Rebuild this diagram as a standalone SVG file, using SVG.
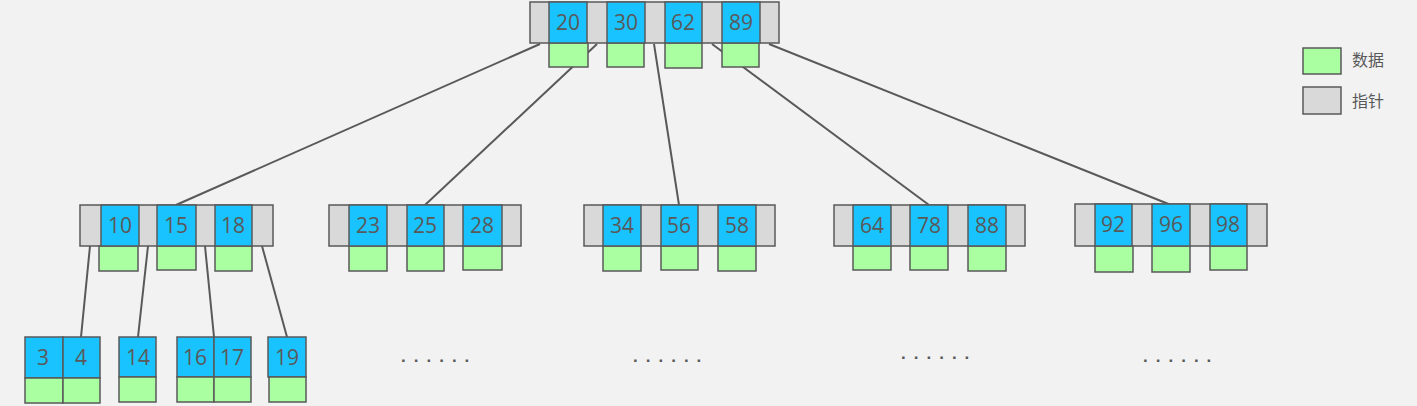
<svg xmlns="http://www.w3.org/2000/svg" width="1417" height="406" viewBox="0 0 1417 406">
<style>
.bg{fill:#f2f2f2}
.p{fill:#d9d9d9;stroke:#595959;stroke-width:1.5}
.k{fill:#19c3ff;stroke:#595959;stroke-width:1.5}
.d{fill:#aaffa0;stroke:#595959;stroke-width:1.5}
.t{font-family:"Open Sans","Noto Sans",sans-serif;font-size:21px;fill:#595959;text-anchor:middle}
.l{font-family:"Noto Sans CJK SC",sans-serif;font-size:16px;fill:#595959}
.dots{font-family:"Liberation Sans",sans-serif;font-size:17px;font-weight:bold;fill:#595959;letter-spacing:8px}
.c{stroke:#595959;stroke-width:2;fill:none}
</style>
<rect class="bg" x="0" y="0" width="1417" height="406"/>
<g id="connectors">
<line class="c" x1="540" y1="44" x2="176" y2="205"/>
<line class="c" x1="597" y1="44" x2="425" y2="205"/>
<line class="c" x1="654" y1="44" x2="679" y2="205"/>
<line class="c" x1="712" y1="44" x2="929" y2="205"/>
<line class="c" x1="769" y1="44" x2="1171" y2="205"/>
<line class="c" x1="90" y1="246" x2="81" y2="337"/>
<line class="c" x1="148" y1="246" x2="138" y2="337"/>
<line class="c" x1="205" y1="246" x2="214" y2="337"/>
<line class="c" x1="262" y1="246" x2="287" y2="337"/>
</g>
<g id="root">
<rect class="p" x="530" y="2" width="249" height="41"/>
<rect class="d" x="549" y="43" width="39" height="24"/>
<rect class="d" x="607" y="43" width="37" height="24"/>
<rect class="d" x="665" y="43" width="37" height="25"/>
<rect class="d" x="722" y="43" width="37" height="24"/>
<rect class="k" x="549" y="2" width="38" height="41"/>
<rect class="k" x="607" y="2" width="38" height="41"/>
<rect class="k" x="665" y="2" width="37" height="41"/>
<rect class="k" x="722" y="2" width="38" height="41"/>
<text class="t" x="568" y="30">20</text>
<text class="t" x="626" y="30">30</text>
<text class="t" x="683" y="30">62</text>
<text class="t" x="741" y="30">89</text>
</g>
<g id="n1">
<rect class="p" x="80" y="205" width="193" height="41"/>
<rect class="d" x="99" y="246" width="39" height="25"/>
<rect class="d" x="157" y="246" width="39" height="24"/>
<rect class="d" x="215" y="246" width="37" height="25"/>
<rect class="k" x="101" y="205" width="38" height="41"/>
<rect class="k" x="157" y="205" width="39" height="41"/>
<rect class="k" x="215" y="205" width="37" height="41"/>
<text class="t" x="120" y="233">10</text>
<text class="t" x="176" y="233">15</text>
<text class="t" x="233" y="233">18</text>
</g>
<g id="n2">
<rect class="p" x="329" y="205" width="192" height="41"/>
<rect class="d" x="349" y="246" width="38" height="25"/>
<rect class="d" x="407" y="246" width="37" height="25"/>
<rect class="d" x="463" y="246" width="39" height="24"/>
<rect class="k" x="349" y="205" width="38" height="41"/>
<rect class="k" x="407" y="205" width="37" height="41"/>
<rect class="k" x="463" y="205" width="39" height="41"/>
<text class="t" x="368" y="233">23</text>
<text class="t" x="425" y="233">25</text>
<text class="t" x="482" y="233">28</text>
</g>
<g id="n3">
<rect class="p" x="584" y="205" width="191" height="41"/>
<rect class="d" x="603" y="246" width="38" height="25"/>
<rect class="d" x="661" y="246" width="37" height="24"/>
<rect class="d" x="718" y="246" width="38" height="25"/>
<rect class="k" x="603" y="205" width="38" height="41"/>
<rect class="k" x="661" y="205" width="37" height="41"/>
<rect class="k" x="718" y="205" width="38" height="41"/>
<text class="t" x="622" y="233">34</text>
<text class="t" x="679" y="233">56</text>
<text class="t" x="737" y="233">58</text>
</g>
<g id="n4">
<rect class="p" x="834" y="205" width="191" height="41"/>
<rect class="d" x="853" y="246" width="38" height="24"/>
<rect class="d" x="910" y="246" width="38" height="24"/>
<rect class="d" x="968" y="246" width="38" height="25"/>
<rect class="k" x="853" y="205" width="38" height="41"/>
<rect class="k" x="910" y="205" width="38" height="41"/>
<rect class="k" x="968" y="205" width="38" height="41"/>
<text class="t" x="872" y="233">64</text>
<text class="t" x="929" y="233">78</text>
<text class="t" x="987" y="233">88</text>
</g>
<g id="n5">
<rect class="p" x="1075" y="204" width="192" height="42"/>
<rect class="d" x="1095" y="246" width="38" height="26"/>
<rect class="d" x="1152" y="246" width="38" height="26"/>
<rect class="d" x="1210" y="246" width="37" height="24"/>
<rect class="k" x="1095" y="204" width="37" height="42"/>
<rect class="k" x="1152" y="204" width="38" height="42"/>
<rect class="k" x="1210" y="204" width="37" height="42"/>
<text class="t" x="1113" y="232">92</text>
<text class="t" x="1171" y="232">96</text>
<text class="t" x="1228" y="232">98</text>
</g>
<g id="leaf1">
<rect class="k" x="25" y="337" width="38" height="41"/>
<rect class="k" x="63" y="337" width="37" height="41"/>
<rect class="d" x="25" y="378" width="38" height="25"/>
<rect class="d" x="63" y="378" width="37" height="25"/>
<text class="t" x="43" y="365">3</text>
<text class="t" x="81" y="365">4</text>
</g>
<g id="leaf2">
<rect class="k" x="119" y="337" width="37" height="40"/>
<rect class="d" x="119" y="377" width="37" height="25"/>
<text class="t" x="138" y="365">14</text>
</g>
<g id="leaf3">
<rect class="k" x="177" y="337" width="37" height="40"/>
<rect class="k" x="214" y="337" width="37" height="40"/>
<rect class="d" x="177" y="377" width="37" height="25"/>
<rect class="d" x="214" y="377" width="37" height="25"/>
<text class="t" x="195" y="365">16</text>
<text class="t" x="232" y="365">17</text>
</g>
<g id="leaf4">
<rect class="k" x="268" y="337" width="38" height="40"/>
<rect class="d" x="269" y="377" width="37" height="25"/>
<text class="t" x="287" y="365">19</text>
</g>
<g id="ellipses">
<text class="dots" x="401" y="362">......</text>
<text class="dots" x="633" y="362">......</text>
<text class="dots" x="901" y="359">......</text>
<text class="dots" x="1143" y="362">......</text>
</g>
<g id="legend">
<rect class="d" x="1303" y="48" width="38" height="26"/>
<rect class="p" x="1303" y="87" width="38" height="27"/>
<text class="l" x="1352" y="66">数据</text>
<text class="l" x="1352" y="107">指针</text>
</g>
</svg>
